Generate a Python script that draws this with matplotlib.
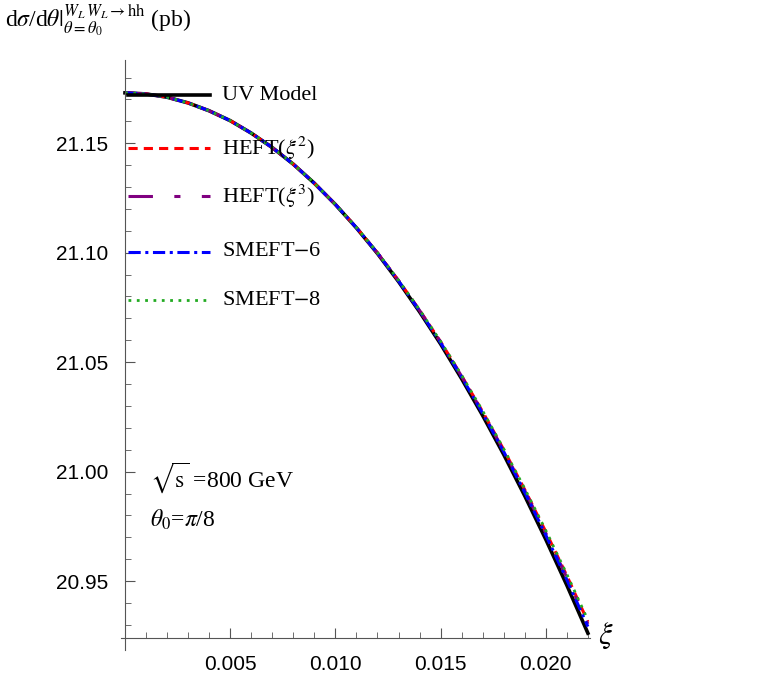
import matplotlib
matplotlib.use("Agg")
import matplotlib.pyplot as plt
from matplotlib.lines import Line2D
matplotlib.rcParams["mathtext.fontset"] = "stix"

xi = [0.000,0.001,0.002,0.003,0.004,0.005,0.006,0.007,0.008,0.009,0.010,0.011,
      0.012,0.013,0.014,0.015,0.016,0.017,0.018,0.019,0.020,0.021,0.022]
uv = [21.173,21.1725,21.171,21.1684,21.1648,21.1603,21.1546,21.148,21.1404,21.1317,21.122,21.1113,
      21.0996,21.0868,21.073,21.0583,21.0424,21.0256,21.0078,20.9889,20.969,20.9481,20.9262]
dev_heft2 = [0,0,0,0,0,0,0,0,0,0,0,0.0002,0.0003,0.0005,0.0007,0.0010,0.0013,0.0017,0.0022,0.0028,0.0035,0.0043,0.0052]
dev_heft3 = [0,0,0,0,0,0,0,0,0,0,0,0.0001,0.0002,0.0004,0.0006,0.0008,0.0011,0.0014,0.0018,0.0023,0.0029,0.0035,0.0042]
dev_smeft6 = [0,0,0,0,0,0,0,0,0,0,0,0.0001,0.0002,0.0003,0.0004,0.0006,0.0008,0.0010,0.0013,0.0016,0.0020,0.0025,0.0030]
dev_smeft8 = [0,0,0,0,0,0,0,0,0,0,0,0.0002,0.0004,0.0006,0.0009,0.0012,0.0016,0.0021,0.0026,0.0033,0.0041,0.0050,0.0060]
labels = ["UV Model", r"HEFT($\xi^2$)", r"HEFT($\xi^3$)", "SMEFT$-$6", "SMEFT$-$8"]

heft2 = [a + b for a, b in zip(uv, dev_heft2)]
heft3 = [a + b for a, b in zip(uv, dev_heft3)]
smeft6 = [a + b for a, b in zip(uv, dev_smeft6)]
smeft8 = [a + b for a, b in zip(uv, dev_smeft8)]

W, H = 757, 676
fig = plt.figure(figsize=(W/100, H/100), dpi=100)
ax = fig.add_axes([125/W, 1-638/H, (590-125)/W, (638-60)/H])
ax.set_xlim(0, 0.0221)
ax.set_ylim(20.924, 21.188)

styles = [
    dict(color="black", lw=2.6, ls="-"),
    dict(color="red", lw=2.2, ls=(0, (3, 2))),
    dict(color="purple", lw=2.2, ls=(0, (8, 7, 2, 7))),
    dict(color="blue", lw=2.2, ls=(0, (4, 1.5, 1, 1.5))),
    dict(color="#22aa22", lw=2.0, ls=(0, (1, 2))),
]
series = [uv, heft2, heft3, smeft6, smeft8]
for s, st in zip(series, styles):
    ax.plot(xi, s, **st, clip_on=False)

for sp in ["top", "right"]:
    ax.spines[sp].set_visible(False)
for sp in ["left", "bottom"]:
    ax.spines[sp].set_color("#555555")
ax.spines["left"].set_bounds(20.9185, 21.188)
ax.spines["bottom"].set_bounds(-0.0002, 0.0221)

ax.set_xticks([0.005, 0.010, 0.015, 0.020])
ax.set_xticklabels(["0.005", "0.010", "0.015", "0.020"])
ax.set_xticks([i*0.001 for i in range(1, 23)], minor=True)
ax.set_yticks([20.95, 21.00, 21.05, 21.10, 21.15])
ax.set_yticklabels(["20.95", "21.00", "21.05", "21.10", "21.15"])
ax.set_yticks([20.93 + i*0.01 for i in range(26)], minor=True)
ax.tick_params(which="major", direction="in", length=7, color="#555555",
               labelsize=15, pad=12)
ax.tick_params(which="minor", direction="in", length=4, color="#555555")
for t in ax.get_xticklabels() + ax.get_yticklabels():
    t.set_fontfamily("Liberation Sans")

leg_y = [95, 148, 196, 252, 300]
for yp, st, lab in zip(leg_y, styles, labels):
    yf = 1 - yp/H
    fig.add_artist(Line2D([128/W, 210/W], [yf, yf], transform=fig.transFigure, **st))
    fig.text(222/W, yf, lab, fontsize=16, fontfamily="Liberation Serif", va="center")

fig.text(150/W, 1-478/H, r"$\sqrt{\mathrm{s}}$ =800 GeV", fontsize=17, fontfamily="Liberation Serif", va="center")
fig.text(150/W, 1-520/H, r"$\theta_0$=$\pi$/8", fontsize=17, fontfamily="Liberation Serif", va="center")
fig.text(5/W, 1-20/H,
         r"d$\sigma$/d$\theta|^{W_L\,W_L\to\mathrm{hh}}_{\theta=\theta_0}$ (pb)",
         fontsize=17, fontfamily="Liberation Serif", va="center")
fig.text(598/W, 1-636/H, r"$\xi$", fontsize=22, va="center")

fig.savefig("out.png", dpi=100)
